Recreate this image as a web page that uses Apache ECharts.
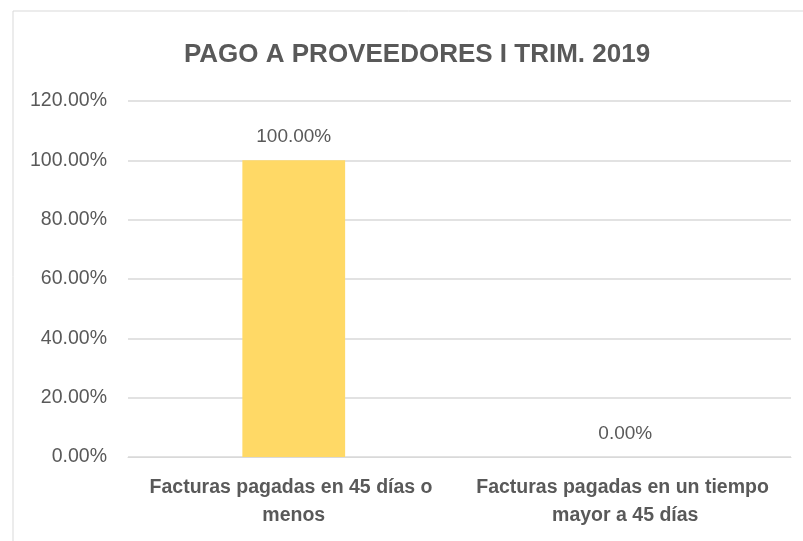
<!DOCTYPE html>
<html>
<head>
<meta charset="utf-8">
<script src="https://cdn.jsdelivr.net/npm/echarts@6/dist/echarts.min.js"></script>
<style>
  html, body { margin: 0; padding: 0; background: #fff; }
  #chart { width: 803px; height: 541px; }
</style>
</head>
<body>
<div id="chart"></div>
<script>
const categories = [
  "Facturas pagadas en 45 días o menos",
  "Facturas pagadas en un tiempo mayor a 45 días",
];
const percentValues = [100, 0];
const yTicks = [0, 20, 40, 60, 80, 100, 120];

const fontFamily = "'Liberation Sans Narrow', 'Arial Narrow', 'Liberation Sans', Arial, sans-serif";
const textColor = "#595959";

const chart = echarts.init(document.getElementById("chart"));
chart.setOption({
  animation: false,
  graphic: [
    {
      type: "rect",
      shape: { x: 13, y: 11, width: 820, height: 560 },
      style: { fill: "none", stroke: "#d9d9d9", lineWidth: 1 },
    },
  ],
  title: {
    text: "PAGO A PROVEEDORES I TRIM. 2019",
    left: 412,
    top: 37,
    textAlign: "center",
    textStyle: {
      fontFamily,
      fontSize: 26,
      fontWeight: "bold",
      color: textColor,
    },
  },
  grid: {
    left: 128,
    right: 12,
    top: 101,
    bottom: 84,
  },
  xAxis: {
    type: "category",
    data: categories,
    axisLine: { lineStyle: { color: "#d9d9d9" } },
    axisTick: { show: false },
    axisLabel: {
      interval: 0,
      margin: 17,
      width: 310,
      overflow: "break",
      lineHeight: 28,
      fontFamily,
      fontSize: 19.5,
      fontWeight: "bold",
      color: textColor,
    },
  },
  yAxis: {
    type: "value",
    min: yTicks[0],
    max: yTicks[yTicks.length - 1],
    interval: 20,
    axisLine: { show: false },
    axisTick: { show: false },
    splitLine: { lineStyle: { color: "#d9d9d9", width: 1.5 } },
    axisLabel: {
      margin: 21,
      fontFamily,
      fontSize: 19.5,
      color: textColor,
      formatter: (v) => v.toFixed(2) + "%",
    },
  },
  series: [
    {
      name: "Pago",
      type: "bar",
      barWidth: "31%",
      data: percentValues,
      itemStyle: { color: "#FFD966" },
      label: {
        show: true,
        position: "top",
        distance: 14,
        fontFamily,
        fontSize: 19,
        color: textColor,
        formatter: (p) => p.value.toFixed(2) + "%",
      },
    },
  ],
});
</script>
</body>
</html>
